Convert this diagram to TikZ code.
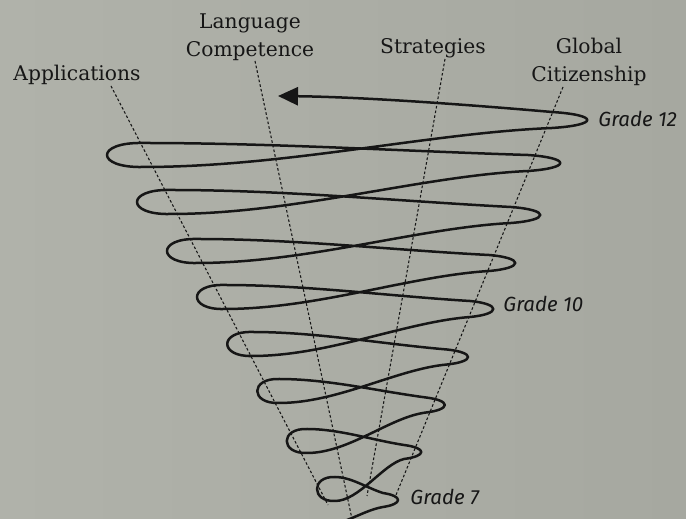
\documentclass[tikz,border=0pt]{standalone}
\usepackage{fontspec}
\newfontfamily\gradefont{Fira Sans}
\newfontfamily\titlefont{DejaVu Serif}
\usetikzlibrary{arrows.meta}
\definecolor{bgl}{RGB}{176,178,170}
\definecolor{bgr}{RGB}{166,168,160}
\definecolor{ink}{RGB}{22,22,22}
\begin{document}
\begin{tikzpicture}[x=0.42pt,y=-0.42pt,
  spiral/.style={line width=1.05pt, line join=round, line cap=round, draw=ink},
  guide/.style={line width=0.45pt, dash pattern=on 1.1pt off 0.9pt, draw=ink},
  title/.style={font=\titlefont\fontsize{8.5}{11.76}\selectfont, text=ink, anchor=base, inner sep=0pt, align=center},
  grade/.style={font=\gradefont\itshape\fontsize{8.6}{10}\selectfont, text=ink, anchor=base west, inner sep=0pt}]
\shade[left color=bgl, right color=bgr] (0,0) rectangle (686,519);
\useasboundingbox (0,0) rectangle (686,519);

% labels (base anchor = baseline of the last line)
\node[title] (app) at (77,81) {Applications};
\node[title] (lc) at (250,57) {Language\\Competence};
\node[title] (strat) at (433,54) {Strategies};
\node[title] (glob) at (589,82) {Global\\Citizenship};
\node[grade] (g12) at (598,127) {Grade 12};
\node[grade] (g10) at (503,312) {Grade 10};
\node[grade] (g7) at (410,505) {Grade 7};

% guide lines
\coordinate (appTop) at (111,86);
\coordinate (appEnd) at (328,505);
\coordinate (lcTop) at (255,61);
\coordinate (lcEnd) at (352,519);
\coordinate (stTop) at (445,59);
\coordinate (stEnd) at (367,496);
\coordinate (glTop) at (563,87);
\coordinate (glEnd) at (396,495);
\draw[guide] (appTop) -- (appEnd);
\draw[guide] (lcTop) -- (lcEnd);
\draw[guide] (stTop) -- (stEnd);
\draw[guide] (glTop) -- (glEnd);

% spiral
\coordinate (arrowTip) at (278,96);
\draw[spiral, -{Triangle[length=8.4pt, width=7.6pt]}]
  (347,520) .. controls (360,515) and (371,509) .. (383,507)
  .. controls (403,504) and (403,496) .. (383,493)
  .. controls (367,488) and (351,477) .. (335,477)
  .. controls (311,476) and (311,502) .. (335,501)
  .. controls (359,501) and (383,464) .. (404,459)
  .. controls (427,456) and (427,448) .. (404,445)
  .. controls (372,440) and (339,429) .. (307,429)
  .. controls (280,428) and (280,454) .. (307,453)
  .. controls (349,453) and (390,417) .. (426,412.5)
  .. controls (451,409.5) and (451,400.5) .. (426,397.5)
  .. controls (377,391) and (328,379) .. (279,379)
  .. controls (250,378) and (250,404) .. (279,403)
  .. controls (338,403) and (397,369) .. (447,364.5)
  .. controls (475,361.5) and (475,352.5) .. (447,349.5)
  .. controls (382,344) and (317,332) .. (252,332)
  .. controls (219,331) and (219,357) .. (252,356)
  .. controls (328,356) and (405,322) .. (470,317)
  .. controls (501,314) and (501,304) .. (470,301)
  .. controls (388,296) and (306,285) .. (224,285)
  .. controls (188,284) and (188,310) .. (224,309)
  .. controls (317,309) and (409,276) .. (489,271)
  .. controls (524,268) and (524,258) .. (489,255)
  .. controls (392,250) and (294,239) .. (197,239)
  .. controls (157,238) and (157,264) .. (197,263)
  .. controls (307,263) and (417,228) .. (511,223)
  .. controls (550,220) and (550,210) .. (511,207)
  .. controls (397,201) and (284,190) .. (170,190)
  .. controls (126,189) and (126,215) .. (170,214)
  .. controls (295,214) and (421,176) .. (528,171)
  .. controls (571,168) and (571,158) .. (528,155)
  .. controls (400,151) and (271,143) .. (143,143)
  .. controls (95,142) and (95,168) .. (143,167)
  .. controls (286,167) and (429,133) .. (552,128)
  .. controls (599,125) and (599,115) .. (552,112)
  .. controls (460,104) and (360,97) .. (arrowTip);
\end{tikzpicture}
\end{document}
